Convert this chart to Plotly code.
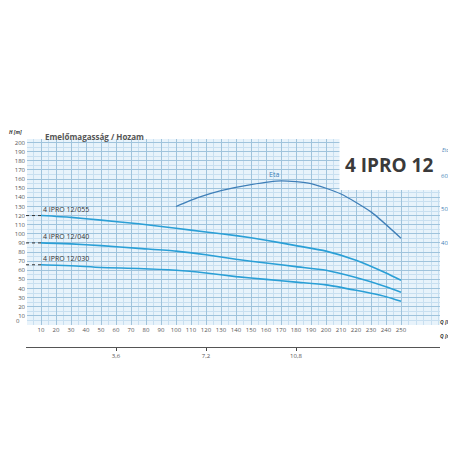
import plotly.graph_objects as go

q = [10, 30, 50, 75, 100, 120, 140, 160, 180, 200, 220, 240, 250]
h055 = [120, 118, 115, 111, 106, 102, 98, 93, 87, 81, 71, 57, 49]
h040 = [90, 89, 87, 84, 81, 77, 72, 68, 64, 60, 52, 42, 36]
h030 = [66, 65, 63, 62, 60, 57, 53, 50, 47, 44, 38, 31, 26]
names = ["4 IPRO 12/055", "4 IPRO 12/040", "4 IPRO 12/030"]
eta_q = [100, 115, 130, 150, 170, 190, 210, 230, 250]
eta = [50.8, 53.5, 55.5, 57.3, 58.4, 57.6, 54.5, 49.2, 41.4]
m3h_ticks = [3.6, 7.2, 10.8]

fig = go.Figure()
blue = "#2a9fd6"
for n, h in zip(names, [h055, h040, h030]):
    fig.add_trace(go.Scatter(x=q, y=h, mode="lines", line=dict(color=blue, width=1.6, shape="spline", smoothing=0.6), hoverinfo="skip"))
    fig.add_trace(go.Scatter(x=[0, q[0]], y=[h[0], h[0]], mode="lines", line=dict(color="#333", width=1, dash="dot")))
    fig.add_annotation(x=q[0], y=h[0], text=n, showarrow=False, xanchor="left", yanchor="bottom",
                       font=dict(size=7, color="#333"))
fig.add_trace(go.Scatter(x=eta_q, y=eta, yaxis="y2", mode="lines", line=dict(color="#3f7fb8", width=1.3, shape="spline", smoothing=0.6)))
fig.add_annotation(x=165, y=60.3, yref="y2", text="Eta", showarrow=False, font=dict(size=7, color="#3f7fb8"))

fig.update_layout(
    width=456, height=456, showlegend=False,
    margin=dict(l=18, r=24, t=131, b=117, autoexpand=False),
    paper_bgcolor="white", plot_bgcolor="white",
    font=dict(family="Open Sans", size=6, color="#555"),
    xaxis=dict(range=[0, 276], minor=dict(dtick=5, showgrid=True, gridcolor="#c8dff0"),
               showgrid=True, gridcolor="#9fc3dc", zeroline=False, ticks="", automargin=False,
               tickvals=list(range(10, 260, 10)), anchor="y"),
    yaxis=dict(range=[0, 204], domain=[0.106, 1], tickvals=list(range(10, 210, 10)), automargin=False,
               minor=dict(dtick=5, showgrid=True, gridcolor="#c8dff0"),
               showgrid=True, gridcolor="#9fc3dc", zeroline=False, ticks=""),
    yaxis2=dict(range=[15.7, 70.8], domain=[0.106, 1], overlaying="y", side="right", anchor="x",
                tickvals=[40, 50, 60], showgrid=False, zeroline=False, automargin=False,
                tickfont=dict(color="#3f7fb8", size=6)),
    xaxis2=dict(range=[0, 276 * 0.06], overlaying="x", anchor="free", position=0, automargin=False,
                tickvals=m3h_ticks, ticktext=["3,6", "7,2", "10,8"], showline=True, linecolor="#555",
                ticks="outside", ticklen=3, showgrid=False, side="bottom"),
)
fig.add_trace(go.Scatter(x=[3.6], y=[0], xaxis="x2", yaxis="y", mode="markers", marker=dict(opacity=0), hoverinfo="skip"))
fig.add_shape(type="rect", xref="paper", yref="y", x0=0, x1=1, y0=0, y1=204,
              fillcolor="#e8f3fb", line=dict(width=0), layer="below")
fig.add_shape(type="rect", xref="x", yref="y", x0=209, x1=276, y0=148, y1=204,
              fillcolor="white", line=dict(width=0))
fig.add_annotation(x=242, y=176, xref="x", yref="y", text="<b>4 IPRO 12</b>", showarrow=False,
                   font=dict(size=19, color="#3a3a3a", family="Open Sans"))
fig.add_annotation(x=0.04, y=1.05, xref="paper", yref="paper", text="<b>Emelőmagasság / Hozam</b>",
                   showarrow=False, xanchor="left", font=dict(size=8, color="#555"))
fig.add_annotation(x=-0.005, y=1.01, xref="paper", yref="paper", text="<b><i>H [m]</i></b>",
                   showarrow=False, xanchor="right", yanchor="bottom", font=dict(size=5, color="#333"))
fig.add_annotation(x=1.0, y=0.97, xref="paper", yref="paper", text="<i>Eta [%]</i>",
                   showarrow=False, xanchor="left", font=dict(size=5, color="#3f7fb8"))
fig.add_annotation(x=0.995, y=0.094, xref="paper", yref="paper", text="<b><i>Q [l/min]</i></b> →",
                   showarrow=False, xanchor="left", font=dict(size=5, color="#333"))
fig.add_annotation(x=0.995, y=0.03, xref="paper", yref="paper", text="<b><i>Q [m³/h]</i></b> →",
                   showarrow=False, xanchor="left", font=dict(size=5, color="#333"))
fig.add_annotation(x=-0.01, y=0.094, xref="paper", yref="paper", text="0", showarrow=False,
                   xanchor="right", font=dict(size=6, color="#555"))
fig.write_html("out.html")
